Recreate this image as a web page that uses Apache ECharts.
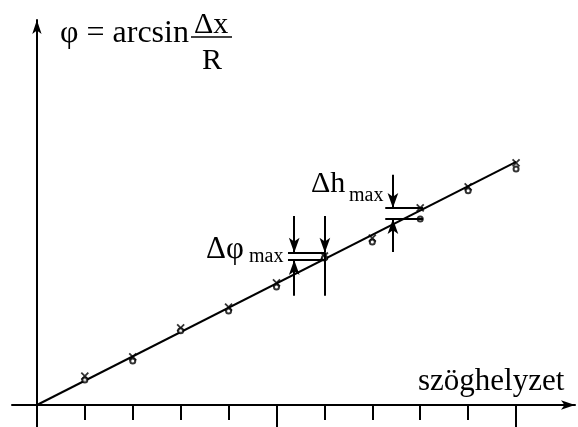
<!DOCTYPE html>
<html><head><meta charset="utf-8">
<script src="https://cdn.jsdelivr.net/npm/echarts@6/dist/echarts.min.js"></script>
<style>html,body{margin:0;padding:0;background:#fff}#c{width:578px;height:427px}</style>
</head><body><div id="c"></div>
<script>
// data
const positions = [1, 2, 3, 4, 5, 6, 7, 8, 9, 10];
const crossValues = [1.19, 1.98, 3.17, 4.03, 5.02, 6.13, 6.87, 8.11, 8.97, 9.96];
const dotValues = [1.03, 1.81, 3.05, 3.87, 4.86, 6.05, 6.71, 7.65, 8.81, 9.71];
const idealX = [0, 10];
const idealY = [0, 10];
const minorTicks = [1, 2, 3, 4, 6, 7, 8, 9];
const majorTicks = [5, 10];
// annotation geometry (data units)
const phiBracketX = [5.24, 6.01];
const phiBracketY = [6.26, 5.97];
const phiArrowX = 5.37;
const phiSpanY = [7.78, 4.49];
const hBracketX = [7.27, 8.06];
const hBracketY = [8.11, 7.65];
const hArrowX = 7.43;
const hSpanY = [9.47, 6.30];
const Y_MIN = -0.905, Y_MAX = 15.84;

const FONT = '"Liberation Serif", "Times New Roman", serif';
const chart = echarts.init(document.getElementById('c'), null, {renderer: 'canvas'});

function seg(x1, y1, x2, y2, arrowEnd) {
  return [{coord: [x1, y1], symbol: 'none'}, {coord: [x2, y2], symbol: arrowEnd ? 'arrow' : 'none'}];
}
const ann = [
  seg(phiBracketX[0], phiBracketY[0], phiBracketX[1], phiBracketY[0], false),
  seg(phiBracketX[0], phiBracketY[1], phiBracketX[1], phiBracketY[1], false),
  seg(phiArrowX, phiSpanY[0], phiArrowX, phiBracketY[0], true),
  seg(phiArrowX, phiSpanY[1], phiArrowX, phiBracketY[1], true),
  seg(phiBracketX[1], phiSpanY[0], phiBracketX[1], phiBracketY[0], true),
  seg(phiBracketX[1], phiBracketY[0], phiBracketX[1], phiSpanY[1], false),
  seg(hBracketX[0], hBracketY[0], hBracketX[1], hBracketY[0], false),
  seg(hBracketX[0], hBracketY[1], hBracketX[1], hBracketY[1], false),
  seg(hArrowX, hSpanY[0], hArrowX, hBracketY[0], true),
  seg(hArrowX, hSpanY[1], hArrowX, hBracketY[1], true)
].concat(majorTicks.map(t => seg(t, 0, t, Y_MIN, false)));

const axisLineStyle = {color: '#000', width: 2};
chart.setOption({
  animation: false,
  backgroundColor: '#fff',
  grid: {left: 12, right: 3, top: 20, bottom: 0, containLabel: false},
  xAxis: {
    type: 'value', min: -0.52, max: 11.23, position: 'bottom',
    axisLine: {show: true, onZero: true, symbol: ['none', 'arrow'], symbolSize: [7, 14], lineStyle: axisLineStyle},
    axisTick: {show: true, length: 15, customValues: minorTicks, lineStyle: {color: '#000', width: 2}},
    axisLabel: {show: false}, splitLine: {show: false}
  },
  yAxis: {
    type: 'value', min: Y_MIN, max: Y_MAX,
    axisLine: {show: true, onZero: true, symbol: ['none', 'arrow'], symbolSize: [7, 14], lineStyle: axisLineStyle},
    axisTick: {show: false}, axisLabel: {show: false}, splitLine: {show: false}
  },
  series: [
    {
      type: 'line', data: idealX.map((x, i) => [x, idealY[i]]), symbol: 'none',
      lineStyle: {color: '#000', width: 2}, silent: true, z: 3
    },
    {
      type: 'scatter', data: positions.map((x, i) => [x, crossValues[i]]),
      symbol: 'path://M0,0L10,10M10,0L0,10', symbolSize: 7,
      itemStyle: {color: 'rgba(0,0,0,0)', borderColor: '#000', borderWidth: 1.8}, z: 4
    },
    {
      type: 'scatter', data: positions.map((x, i) => [x, dotValues[i]]),
      symbol: 'emptyCircle', symbolSize: 5,
      itemStyle: {color: '#000', borderColor: '#000', borderWidth: 1.8}, z: 4
    },
    {
      type: 'line', data: [], silent: true,
      markLine: {
        silent: true, animation: false, symbolSize: [8, 15],
        label: {show: false}, emphasis: {disabled: true},
        lineStyle: {color: '#000', width: 2, type: 'solid'},
        data: ann
      }
    }
  ],
  graphic: [
    {type: 'text', left: 60, top: 18, style: {text: 'φ = arcsin', font: '32px ' + FONT, fill: '#000'}},
    {type: 'text', left: 194, top: 10, style: {text: 'Δx', font: '30px ' + FONT, fill: '#000'}},
    {type: 'line', shape: {x1: 191, y1: 37, x2: 232, y2: 37}, style: {stroke: '#000', lineWidth: 1.5}},
    {type: 'text', left: 202, top: 46, style: {text: 'R', font: '30px ' + FONT, fill: '#000'}},
    {type: 'text', left: 418, top: 366, style: {text: 'szöghelyzet', font: '31px ' + FONT, fill: '#000'}},
    {type: 'text', left: 311, top: 169, style: {text: 'Δh', font: '30px ' + FONT, fill: '#000'}},
    {type: 'text', left: 349, top: 186, style: {text: 'max', font: '20px ' + FONT, fill: '#000'}},
    {type: 'text', left: 206, top: 234, style: {text: 'Δφ', font: '31px ' + FONT, fill: '#000'}},
    {type: 'text', left: 249, top: 247, style: {text: 'max', font: '20px ' + FONT, fill: '#000'}}
  ]
});
</script></body></html>
